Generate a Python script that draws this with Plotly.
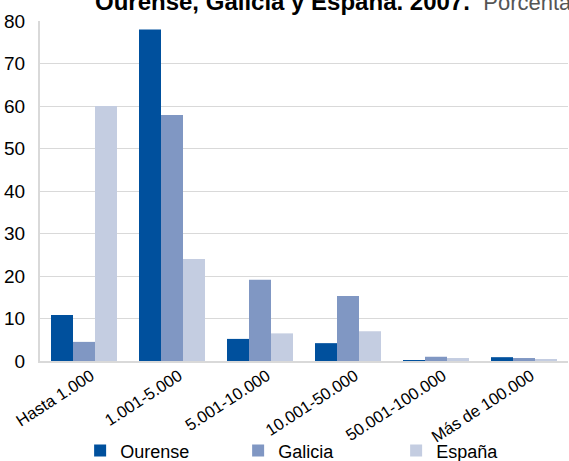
import plotly.graph_objects as go

categories = ["Hasta 1.000", "1.001-5.000", "5.001-10.000", "10.001-50.000", "50.001-100.000", "Más de 100.000"]
ourense = [10.8, 78.0, 5.2, 4.2, 0.1, 0.9]
galicia = [4.5, 57.9, 19.1, 15.3, 1.0, 0.7]
espana = [60.0, 24.0, 6.5, 7.0, 0.7, 0.4]
series_names = ["Ourense", "Galicia", "España"]
colors = ["#00509d", "#8097c3", "#c4cde1"]
yticks = [0, 10, 20, 30, 40, 50, 60, 70, 80]

FONT = "Liberation Sans, Arial, sans-serif"

fig = go.Figure()
for name, vals, col in zip(series_names, [ourense, galicia, espana], colors):
    fig.add_trace(go.Bar(x=categories, y=vals, name=name,
                         marker=dict(color=col, line=dict(width=0))))

fig.update_layout(
    width=569, height=461,
    margin=dict(l=40, r=1, t=21, b=100, autoexpand=False),
    paper_bgcolor="white", plot_bgcolor="white",
    barmode="group", bargap=0.25, bargroupgap=0,
    font=dict(family=FONT, color="#000000"),
    showlegend=True,
    legend=dict(orientation="h", x=0.076, xanchor="left", y=-0.21, yanchor="top",
                bgcolor="rgba(0,0,0,0)",
                font=dict(size=18, family=FONT), entrywidth=113, entrywidthmode="pixels",
                itemsizing="constant"),
    annotations=[dict(
        xref="paper", yref="paper", x=(93 - 40) / 528, y=1.012, xanchor="left", yanchor="bottom",
        showarrow=False, align="left",
        text="<b>Ourense, Galicia y España. 2007.</b>&nbsp; <span style='color:#555555;font-size:22px'>Porcentaje</span>",
        font=dict(size=24, family=FONT, color="#000000"),
    )],
)
fig.update_xaxes(showline=True, linecolor="#d9d9d9", linewidth=2, tickangle=-33,
                 ticklabelshift=7, ticklabelstandoff=-3,
                 tickfont=dict(size=16.5, family=FONT), ticks="", showgrid=False)
fig.update_yaxes(range=[0, 80], tickvals=yticks, showline=True, linecolor="#d9d9d9", linewidth=2,
                 gridcolor="#d9d9d9", gridwidth=1, ticks="", ticklabelstandoff=9,
                 tickfont=dict(size=19, family=FONT), zeroline=False)

fig.write_html("out.html", config={"displayModeBar": False},
               post_script="document.body.style.margin='0';document.body.style.overflow='hidden';")
